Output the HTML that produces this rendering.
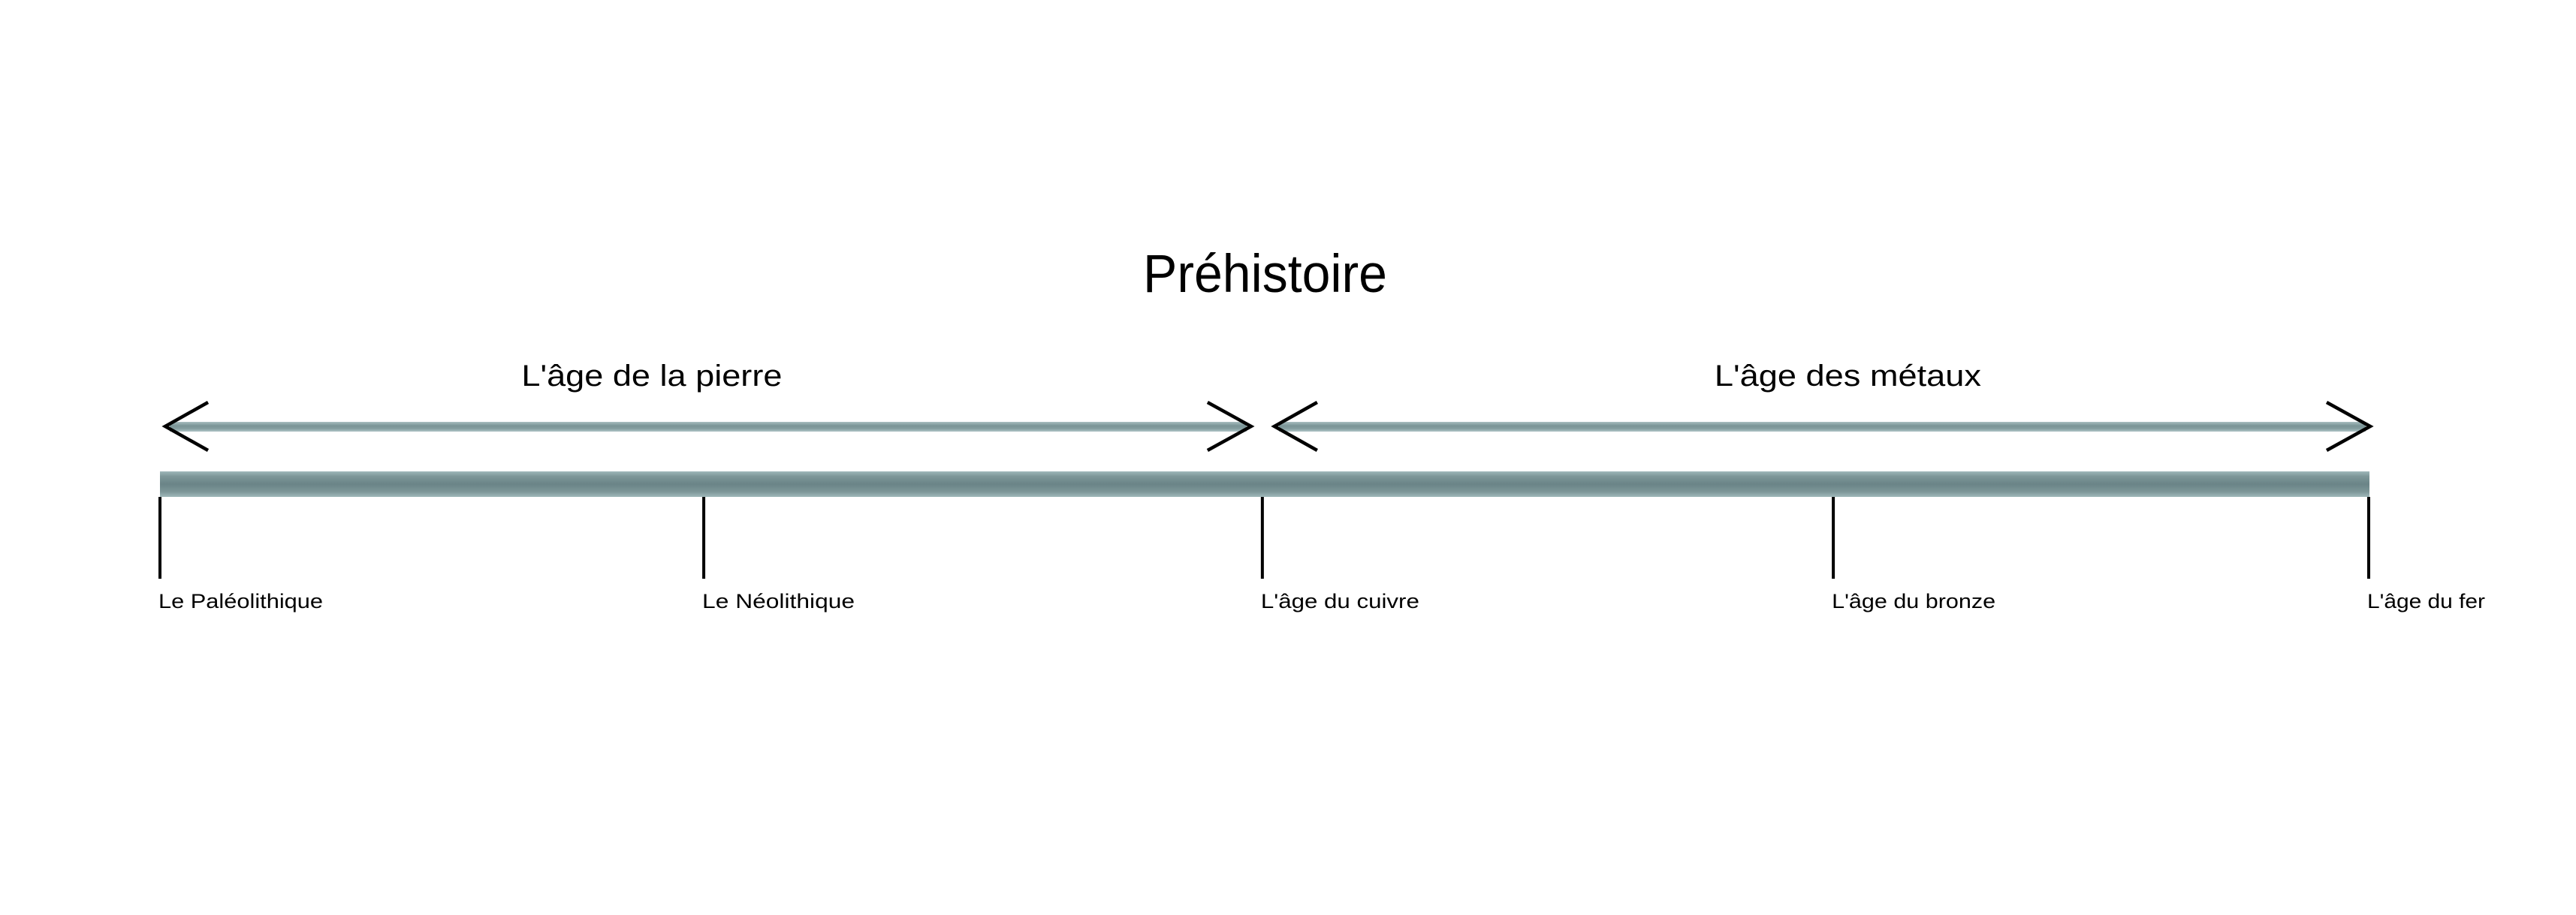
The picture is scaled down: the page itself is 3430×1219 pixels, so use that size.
<!DOCTYPE html>
<html><head><meta charset="utf-8"><style>
html,body{margin:0;padding:0;background:#fff;width:3430px;height:1219px;overflow:hidden}
svg{display:block}
text{font-family:"Liberation Sans",sans-serif;fill:#000}
</style></head><body>
<svg id="chart" width="3430" height="1219" viewBox="0 0 3430 1219">
<defs>
<linearGradient id="barg" x1="0" y1="0" x2="0" y2="1">
<stop offset="0" stop-color="#9fb8ba"/><stop offset="0.2" stop-color="#7d9698"/><stop offset="0.5" stop-color="#6a8487"/><stop offset="0.8" stop-color="#7d9698"/><stop offset="1" stop-color="#9fb8ba"/>
</linearGradient>
<linearGradient id="arrg" x1="0" y1="0" x2="0" y2="1">
<stop offset="0" stop-color="#a9bfc1"/><stop offset="0.4" stop-color="#7a9496"/><stop offset="0.7" stop-color="#859ea0"/><stop offset="1" stop-color="#b0c4c6"/>
</linearGradient>
</defs>
<text x="1522" y="389" font-size="71" textLength="325" lengthAdjust="spacingAndGlyphs">Préhistoire</text>
<g id="spans"></g>
<rect id="mainbar" x="213" y="628" width="2942" height="34" fill="url(#barg)"/>
<g id="ticks"></g>
</svg>
<script>
// timeline axis in arbitrary units 0..1 (start..end)
const periodLabels = ["Le Paléolithique","Le Néolithique","L'âge du cuivre","L'âge du bronze","L'âge du fer"];
const periodStarts = [0, 0.2462, 0.4991, 0.7576, 1.0];
const spanLabels = ["L'âge de la pierre","L'âge des métaux"];
const spanStart = [0, 0.4991];
const spanEnd = [0.4991, 1.0];

const X0 = 213, X1 = 3154;
function xAxis(v){ return X0 + v*(X1-X0); }
const NS = "http://www.w3.org/2000/svg";
const ticksG = document.getElementById('ticks');
const labelW = [219, 203, 211, 218, 157];
periodLabels.forEach((lab,i)=>{
  const x = xAxis(periodStarts[i]);
  const t = document.createElementNS(NS,'rect');
  t.setAttribute('x', x-2); t.setAttribute('y', 662); t.setAttribute('width', 4); t.setAttribute('height', 109); t.setAttribute('fill','#000');
  
  
  ticksG.appendChild(t);
  const tx = document.createElementNS(NS,'text');
  tx.setAttribute('x', x-2); tx.setAttribute('y', 810); tx.setAttribute('font-size', 27);
  tx.setAttribute('textLength', labelW[i]); tx.setAttribute('lengthAdjust','spacingAndGlyphs');
  tx.textContent = lab;
  
  
  ticksG.appendChild(tx);
});
const spansG = document.getElementById('spans');
const spanTitleW = [347, 355];
spanLabels.forEach((lab,i)=>{
  let a = xAxis(spanStart[i]), b = xAxis(spanEnd[i]);
  if (i>0) a += 16; else a += 7;
  if (i===0) b -= 15; else b += 2;
  const g = document.createElementNS(NS,'g');
  
  
  const line = document.createElementNS(NS,'rect');
  line.setAttribute('x', a+6); line.setAttribute('y', 562); line.setAttribute('width', b-a-12); line.setAttribute('height', 13); line.setAttribute('fill','url(#arrg)');
  g.appendChild(line);
  const l = document.createElementNS(NS,'polyline');
  l.setAttribute('points', `${a+57},536 ${a},568 ${a+57},600`);
  l.setAttribute('fill','none'); l.setAttribute('stroke','#000'); l.setAttribute('stroke-width',4.5);
  g.appendChild(l);
  const r = document.createElementNS(NS,'polyline');
  r.setAttribute('points', `${b-58},536 ${b},568 ${b-58},600`);
  r.setAttribute('fill','none'); r.setAttribute('stroke','#000'); r.setAttribute('stroke-width',4.5);
  g.appendChild(r);
  const tx = document.createElementNS(NS,'text');
  const cx = (a+b)/2 + (i===0? -75 : 34);
  tx.setAttribute('x', cx - spanTitleW[i]/2); tx.setAttribute('y', 514); tx.setAttribute('font-size', 40);
  tx.setAttribute('textLength', spanTitleW[i]); tx.setAttribute('lengthAdjust','spacingAndGlyphs');
  tx.textContent = lab;
  g.appendChild(tx);
  spansG.appendChild(g);
});
</script>
</body></html>
